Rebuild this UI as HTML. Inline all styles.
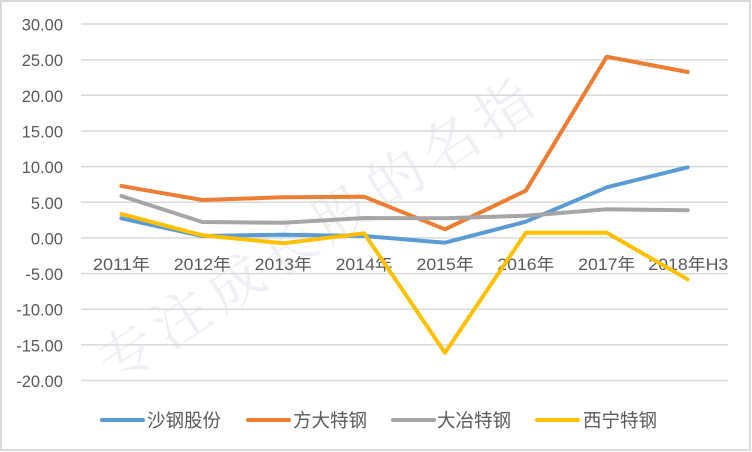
<!DOCTYPE html>
<html>
<head>
<meta charset="utf-8">
<style>
html,body{margin:0;padding:0;background:#fff;}
svg{display:block;}
text{font-family:"Liberation Sans","Noto Sans CJK SC",sans-serif;fill:#595959;}
</style>
</head>
<body>
<svg width="752" height="452" viewBox="0 0 752 452" xmlns="http://www.w3.org/2000/svg">
<rect x="0" y="0" width="752" height="452" fill="#fff"/>
<!-- watermark -->
<text x="0" y="0" transform="translate(115,385) rotate(-33)" font-size="56" style="fill:#eef0f5;font-family:'Noto Serif CJK SC',serif;" letter-spacing="8">专注成长股的名指</text>
<rect x="1" y="1" width="749" height="449" fill="none" stroke="#d9d9d9" stroke-width="2"/>
<!-- gridlines -->
<g stroke="#d9d9d9" stroke-width="1.5">
<line x1="81" y1="24" x2="728" y2="24"/>
<line x1="81" y1="59.7" x2="728" y2="59.7"/>
<line x1="81" y1="95.3" x2="728" y2="95.3"/>
<line x1="81" y1="131" x2="728" y2="131"/>
<line x1="81" y1="166.6" x2="728" y2="166.6"/>
<line x1="81" y1="202.3" x2="728" y2="202.3"/>
<line x1="81" y1="237.9" x2="728" y2="237.9"/>
<line x1="81" y1="273.6" x2="728" y2="273.6"/>
<line x1="81" y1="309.2" x2="728" y2="309.2"/>
<line x1="81" y1="344.9" x2="728" y2="344.9"/>
<line x1="81" y1="380.5" x2="728" y2="380.5"/>
</g>
<!-- y labels -->
<g font-size="16.5" text-anchor="end">
<text x="63" y="30.5">30.00</text>
<text x="63" y="66.2">25.00</text>
<text x="63" y="101.8">20.00</text>
<text x="63" y="137.5">15.00</text>
<text x="63" y="173.1">10.00</text>
<text x="63" y="208.8">5.00</text>
<text x="63" y="244.4">0.00</text>
<text x="63" y="280.1">-5.00</text>
<text x="63" y="315.7">-10.00</text>
<text x="63" y="351.4">-15.00</text>
<text x="63" y="387">-20.00</text>
</g>
<!-- category labels -->
<g font-size="16.5" text-anchor="middle">
<text x="121.4" y="270" textLength="57" lengthAdjust="spacingAndGlyphs">2011年</text>
<text x="202.3" y="270" textLength="57" lengthAdjust="spacingAndGlyphs">2012年</text>
<text x="283.2" y="270" textLength="57" lengthAdjust="spacingAndGlyphs">2013年</text>
<text x="364.1" y="270" textLength="57" lengthAdjust="spacingAndGlyphs">2014年</text>
<text x="445" y="270" textLength="57" lengthAdjust="spacingAndGlyphs">2015年</text>
<text x="525.8" y="270" textLength="57" lengthAdjust="spacingAndGlyphs">2016年</text>
<text x="606.7" y="270" textLength="57" lengthAdjust="spacingAndGlyphs">2017年</text>
<text x="688.3" y="270" textLength="80" lengthAdjust="spacingAndGlyphs">2018年H3</text>
</g>
<!-- series -->
<g fill="none" stroke-width="4" stroke-linejoin="round" stroke-linecap="round">
<polyline stroke="#5B9BD5" points="121.4,218.3 202.3,236 283.2,234.7 364.1,236 445,242.7 525.8,221.7 606.7,187.3 687.6,167.3"/>
<polyline stroke="#ED7D31" points="121.4,186 202.3,200 283.2,197.3 364.1,196.7 445,229.3 525.8,190.7 606.7,56.7 687.6,72"/>
<polyline stroke="#A5A5A5" points="121.4,196 202.3,222 283.2,222.7 364.1,218 445,218.3 525.8,215.7 606.7,209.3 687.6,210.3"/>
<polyline stroke="#FFC000" points="121.4,214 202.3,235.3 283.2,243.3 364.1,233.3 445,352.7 525.8,232.7 606.7,232.7 687.6,279.3"/>
</g>
<!-- legend -->
<g stroke-width="4" stroke-linecap="round">
<line x1="102" y1="420" x2="143" y2="420" stroke="#5B9BD5"/>
<line x1="248" y1="420" x2="289" y2="420" stroke="#ED7D31"/>
<line x1="393" y1="420" x2="434" y2="420" stroke="#A5A5A5"/>
<line x1="537" y1="420" x2="578" y2="420" stroke="#FFC000"/>
</g>
<g font-size="18.5">
<text x="147" y="427">沙钢股份</text>
<text x="293" y="427">方大特钢</text>
<text x="437" y="427">大冶特钢</text>
<text x="583" y="427">西宁特钢</text>
</g>
</svg>
</body>
</html>
